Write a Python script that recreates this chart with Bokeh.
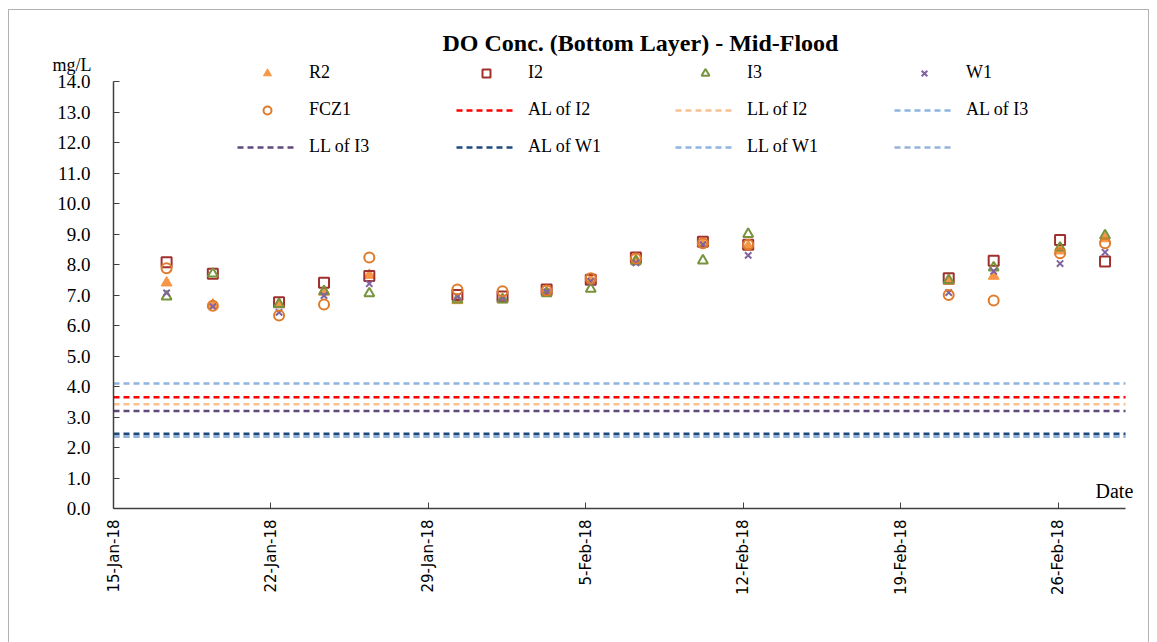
from datetime import datetime, timedelta
from bokeh.plotting import figure
from bokeh.models import (Range1d, FixedTicker, NumeralTickFormatter, Label,
                          Legend, LegendItem, ColumnDataSource, BoxAnnotation)
from bokeh.core.properties import value
from bokeh.embed import file_html
from bokeh.resources import INLINE

# ---------------- data ----------------
dates = ["2018-01-17 08:40", "2018-01-19 10:00", "2018-01-22 08:40", "2018-01-24 08:40",
         "2018-01-26 09:00", "2018-01-30 07:00", "2018-02-01 07:10", "2018-02-03 06:15",
         "2018-02-05 05:20", "2018-02-07 05:30", "2018-02-10 05:00", "2018-02-12 05:20",
         "2018-02-21 03:20", "2018-02-23 03:20", "2018-02-26 02:10", "2018-02-28 02:10"]
r2 = [7.4, 6.68, 6.7, 7.1, 7.65, 6.82, 6.85, 7.1, 7.5, 8.15, 8.7, 8.6, 7.45, 7.62, 8.45, 8.85]
i2 = [8.07, 7.7, 6.76, 7.4, 7.62, 7.0, 6.95, 7.18, 7.5, 8.23, 8.75, 8.65, 7.55, 8.12, 8.8, 8.1]
i3 = [6.95, 7.7, 6.7, 7.12, 7.05, 6.85, 6.85, 7.05, 7.2, 8.1, 8.13, 9.0, 7.48, 7.9, 8.55, 8.95]
w1 = [7.07, 6.62, 6.43, 6.98, 7.37, 6.95, 6.9, 7.1, 7.45, 8.05, 8.65, 8.3, 7.08, 7.78, 8.03, 8.4]
fcz1 = [7.88, 6.65, 6.33, 6.69, 8.23, 7.18, 7.12, 7.15, 7.55, 8.2, 8.7, 8.65, 7.0, 6.82, 8.37, 8.7]

limit_names = ["AL of I2", "LL of I2", "AL of I3", "LL of I3", "AL of W1", "LL of W1", " "]
limit_values = [3.65, 3.42, 4.1, 3.2, 2.45, 2.37, 2.35]
limit_colors = ["#FF0000", "#FAC090", "#8DB4E2", "#604A7B", "#1F497D", "#8DB4E2", "#95B3D7"]

x_start = "2018-01-15"
x_end = "2018-03-01"
tick_dates = ["2018-01-15", "2018-01-22", "2018-01-29", "2018-02-05",
              "2018-02-12", "2018-02-19", "2018-02-26"]
tick_labels = ["15-Jan-18", "22-Jan-18", "29-Jan-18", "5-Feb-18",
               "12-Feb-18", "19-Feb-18", "26-Feb-18"]
y_ticks = list(range(0, 15))
y_min, y_max = 0, 14

# ---------------- layout (pixels) ----------------
W, H = 1157, 642
AX_LEFT, AX_RIGHT = 113, 1125      # x pixel of x_start / x_end
AX_BOTTOM, AX_TOP = 508, 81        # y pixel of y_min / y_max


def to_dt(s):
    fmt = "%Y-%m-%d %H:%M" if " " in s else "%Y-%m-%d"
    return datetime.strptime(s, fmt)


def to_ms(d):
    return (d - datetime(1970, 1, 1)).total_seconds() * 1000.0


t0, t1 = to_dt(x_start), to_dt(x_end)
days_span = (t1 - t0).total_seconds() / 86400.0
px_per_day = (AX_RIGHT - AX_LEFT) / days_span
px_per_unit = (AX_BOTTOM - AX_TOP) / (y_max - y_min)

xr_start = t0 - timedelta(days=AX_LEFT / px_per_day)
xr_end = t0 + timedelta(days=(W - AX_LEFT) / px_per_day)
yr_start = y_min - (H - AX_BOTTOM) / px_per_unit
yr_end = y_max + AX_TOP / px_per_unit


def px_x(px):
    return to_ms(t0 + timedelta(days=(px - AX_LEFT) / px_per_day))


def px_y(py):
    return y_min + (AX_BOTTOM - py) / px_per_unit


xs = [to_dt(s) for s in dates]
serif = "Liberation Serif"

p = figure(x_axis_type="datetime", output_backend="svg", toolbar_location=None,
           width=W, height=H,
           min_border_left=0, min_border_right=0, min_border_top=0, min_border_bottom=0,
           x_range=Range1d(xr_start, xr_end), y_range=Range1d(yr_start, yr_end),
           background_fill_color="white", border_fill_color="white")
p.outline_line_color = None
p.xgrid.visible = False
p.ygrid.visible = False

# chart border
p.add_layout(BoxAnnotation(left=px_x(8), right=px_x(1148), top=px_y(9), bottom=px_y(H + 20),
                           fill_alpha=0, line_color="#000000", line_width=1))

src = ColumnDataSource(dict(x=xs, r2=r2, i2=i2, i3=i3, w1=w1, fcz1=fcz1))

line_renderers = []
for name, val, col in zip(limit_names, limit_values, limit_colors):
    r = p.line(x=[t0, t1], y=[val, val], line_color=col, line_width=2.5, line_dash="6 4")
    line_renderers.append((name, r))

r_r2 = p.scatter("x", "r2", source=src, marker="triangle", size=11,
                 fill_color="#F79646", line_color="#F79646")
r_i2 = p.scatter("x", "i2", source=src, marker="square", size=10,
                 fill_color=None, line_color="#A0302D", line_width=2)
r_i3 = p.scatter("x", "i3", source=src, marker="triangle", size=10,
                 fill_color=None, line_color="#77933C", line_width=2)
r_w1 = p.scatter("x", "w1", source=src, marker="x", size=9,
                 line_color="#8064A2", line_width=2)
r_fcz1 = p.scatter("x", "fcz1", source=src, marker="circle", size=10,
                   fill_color=None, line_color="#E07B2A", line_width=2)

items = [LegendItem(label=value("R2"), renderers=[r_r2]),
         LegendItem(label=value("I2"), renderers=[r_i2]),
         LegendItem(label=value("I3"), renderers=[r_i3]),
         LegendItem(label=value("W1"), renderers=[r_w1]),
         LegendItem(label=value("FCZ1"), renderers=[r_fcz1])]
for name, r in line_renderers:
    items.append(LegendItem(label=value(name), renderers=[r]))

legend = Legend(items=items, orientation="horizontal", ncols=4,
                location=(237, H - 157), padding=0, margin=0, spacing=16,
                glyph_width=60, glyph_height=20, label_height=20, label_width=131,
                label_standoff=12, label_text_font=serif, label_text_font_size="18px",
                label_text_color="#000000", border_line_alpha=0,
                background_fill_alpha=0)
p.add_layout(legend, "center")

# axes at fixed locations
p.xaxis.fixed_location = y_min
p.xaxis.bounds = (to_ms(t0), to_ms(t1))
p.xaxis.ticker = FixedTicker(ticks=[to_ms(to_dt(s)) for s in tick_dates])
p.xaxis.major_label_overrides = {to_ms(to_dt(s)): lab for s, lab in zip(tick_dates, tick_labels)}
p.xaxis.major_label_orientation = 1.5708
p.xaxis.major_label_text_font = "DejaVu Sans"
p.xaxis.major_label_text_font_size = "15px"
p.xaxis.major_label_text_color = "#000000"
p.xaxis.major_label_standoff = 11
p.xaxis.major_tick_in = 6
p.xaxis.major_tick_out = 0
p.xaxis.minor_tick_line_color = None
p.xaxis.axis_line_color = "#404040"
p.xaxis.major_tick_line_color = "#404040"
p.xaxis.axis_line_width = 1.5

p.yaxis.fixed_location = to_ms(t0)
p.yaxis.bounds = (y_min, y_max)
p.yaxis.ticker = FixedTicker(ticks=y_ticks)
p.yaxis.formatter = NumeralTickFormatter(format="0.0")
p.yaxis.major_label_text_font = serif
p.yaxis.major_label_text_font_size = "19px"
p.yaxis.major_label_text_color = "#000000"
p.yaxis.major_label_standoff = 23
p.yaxis.major_tick_in = 6
p.yaxis.major_tick_out = 0
p.yaxis.minor_tick_line_color = None
p.yaxis.axis_line_color = "#404040"
p.yaxis.major_tick_line_color = "#404040"
p.yaxis.axis_line_width = 1.5

# texts (screen units: from frame bottom-left)
p.add_layout(Label(x=640, y=H - 42, x_units="screen", y_units="screen",
                   text="DO Conc. (Bottom Layer) - Mid-Flood", text_align="center",
                   text_baseline="middle", text_font=serif, text_font_style="bold",
                   text_font_size="24px", text_color="#000000"))
p.add_layout(Label(x=52, y=H - 64, x_units="screen", y_units="screen", text="mg/L",
                   text_align="left", text_baseline="middle", text_font=serif,
                   text_font_size="18px", text_color="#000000"))
p.add_layout(Label(x=1095, y=H - 490, x_units="screen", y_units="screen", text="Date",
                   text_align="left", text_baseline="middle", text_font=serif,
                   text_font_size="20px", text_color="#000000"))

open("out.html", "w").write(file_html(p, INLINE))
